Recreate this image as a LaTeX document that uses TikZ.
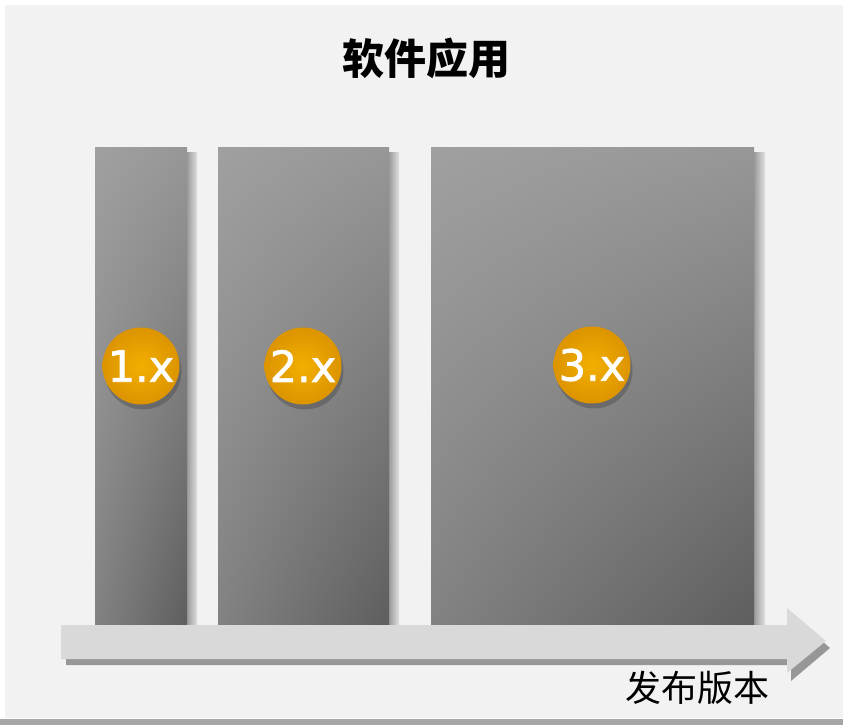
\documentclass[tikz,border=0pt]{standalone}
\usepackage{fontspec}
\newfontfamily\cjk{Noto Sans CJK SC}
\newfontfamily\numfont[FakeBold=1.6]{DejaVu Sans}
\usetikzlibrary{shadows,shadings}
\definecolor{bg}{HTML}{F2F2F2}
\definecolor{botline}{HTML}{A6A6A6}
\definecolor{barUL}{HTML}{A0A0A0}
\definecolor{barUR}{HTML}{979797}
\definecolor{barLL}{HTML}{828282}
\definecolor{barLR}{HTML}{5E5E5E}
\definecolor{barshadow}{HTML}{9A9A9A}
\definecolor{arrowfill}{HTML}{D9D9D9}
\definecolor{arrowshadow}{HTML}{979797}
\definecolor{ballin}{HTML}{F3AF00}
\definecolor{ballout}{HTML}{DC9400}
\tikzset{
  barbox/.style={upper left=barUL, upper right=barUR, lower left=barLL, lower right=barLR},
  barshade/.style={left color=barshadow, right color=bg!80!barshadow},
  ball/.style={circle, minimum size=77pt, inner sep=0pt, shading=radial,
    inner color=ballin, outer color=ballout,
    drop shadow={shadow xshift=2pt, shadow yshift=-5pt, opacity=0.45, fill=black!70},
    text=white, font=\numfont\fontsize{43}{43}\selectfont},
  titletext/.style={font=\cjk\bfseries\fontsize{42}{42}\selectfont, text=black, inner sep=0pt},
  labeltext/.style={font=\cjk\fontsize{36}{36}\selectfont, text=black, inner sep=0pt}
}
\begin{document}
\begin{tikzpicture}[x=1pt,y=-1pt]
\useasboundingbox (0,0) rectangle (843,725);
\fill[white] (0,0) rectangle (843,725);
\fill[bg] (5,5) rectangle (843,718);
\fill[botline] (0,719) rectangle (843,725);
% title
\node[titletext] (title) at (426,58) {软件应用};
% bar shadows
\shade[barshade] (187,152) rectangle (197,625);
\shade[barshade] (389,152) rectangle (399,625);
\shade[barshade] (754,152) rectangle (765,625);
% bars
\shade[barbox] (95,147) rectangle (187,625);
\shade[barbox] (218,147) rectangle (389,625);
\shade[barbox] (431,147) rectangle (754,625);
% version balls
\node[ball] (v1) at (141,366) {1.x};
\node[ball] (v2) at (303,366) {2.x};
\node[ball] (v3) at (592,365) {3.x};
% arrow
\fill[arrowshadow] (66,631) -- (791,631) -- (791,614) -- (830,648) -- (791,681) -- (791,665) -- (66,665) -- cycle;
\fill[arrowfill] (61,625) -- (787,625) -- (787,608) -- (826,641) -- (787,673) -- (787,659) -- (61,659) -- cycle;
\node[labeltext] (label) at (697,688) {发布版本};
\end{tikzpicture}
\end{document}
